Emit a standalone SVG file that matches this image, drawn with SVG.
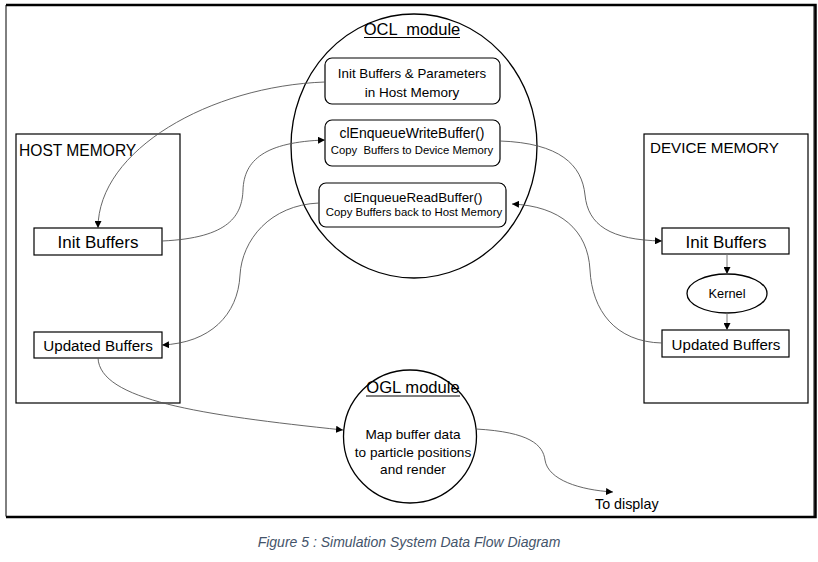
<svg xmlns="http://www.w3.org/2000/svg" width="818" height="562" viewBox="0 0 818 562">
<style>
text{font-family:"Liberation Sans",Arial,sans-serif;fill:#000}
.box{fill:#fff;stroke:#000;stroke-width:1.2}
.rbox{fill:#fff;stroke:#000;stroke-width:1.2}
.ell{fill:#fff;stroke:#000;stroke-width:1.3}
.con{fill:none;stroke:#555;stroke-width:0.9}
.k{fill:none;stroke:#777;stroke-width:1}
.mid{text-anchor:middle}
.cap{font-style:italic;fill:#44546A;font-size:14px}
</style>
<defs>
<marker id="ah" viewBox="0 0 10 10" refX="10" refY="5" markerWidth="7" markerHeight="7" markerUnits="userSpaceOnUse" orient="auto">
<path d="M0,0 L10,5 L0,10 z" fill="#000"/>
</marker>
</defs>
<rect width="818" height="562" fill="#fff"/>
<!-- outer frame -->
<path d="M6,5 H814 V516.5 H6 Z" fill="none" stroke="#000" stroke-width="1"/>
<path d="M6,5 H815.5 V517 H6" fill="none" stroke="#000" stroke-width="2.5"/>

<g id="host-memory">
<rect class="box" x="16" y="134" width="164" height="269"/>
<text x="19" y="156" font-size="15.6">HOST MEMORY</text>
</g>
<g id="host-init">
<rect class="box" x="34" y="228" width="128" height="27"/>
<text class="mid" x="98" y="248" font-size="17">Init Buffers</text>
</g>
<g id="host-updated">
<rect class="box" x="34" y="332" width="128" height="26"/>
<text class="mid" x="98" y="351" font-size="15.2">Updated Buffers</text>
</g>

<g id="device-memory">
<rect class="box" x="644" y="134" width="164" height="269"/>
<text x="650" y="153" font-size="15.2">DEVICE MEMORY</text>
</g>
<g id="device-init">
<rect class="box" x="662" y="228" width="127" height="26"/>
<text class="mid" x="726" y="248" font-size="17">Init Buffers</text>
</g>
<g id="kernel">
<ellipse class="ell" cx="727" cy="293.5" rx="40" ry="19.5"/>
<text class="mid" x="727" y="298" font-size="12.8">Kernel</text>
</g>
<g id="device-updated">
<rect class="box" x="662" y="330" width="127" height="27"/>
<text class="mid" x="726" y="350" font-size="15.1">Updated Buffers</text>
</g>

<g id="ocl-module">
<ellipse class="ell" cx="414" cy="146" rx="123" ry="132"/>
<text class="mid" x="412" y="35" font-size="16.5" xml:space="preserve">OCL  module</text>
<line x1="364" y1="37.5" x2="460" y2="37.5" stroke="#000" stroke-width="1"/>
</g>
<g id="ocl-init">
<rect class="rbox" x="325" y="58" width="175" height="46" rx="7"/>
<text class="mid" x="412" y="78" font-size="13.3">Init Buffers &amp; Parameters</text>
<text class="mid" x="412" y="97" font-size="13.5">in Host Memory</text>
</g>
<g id="ocl-write">
<rect class="rbox" x="325" y="120" width="175" height="46" rx="7"/>
<text class="mid" x="412" y="138" font-size="14">clEnqueueWriteBuffer()</text>
<text class="mid" x="412" y="154" font-size="11.3" xml:space="preserve">Copy  Buffers to Device Memory</text>
</g>
<g id="ocl-read">
<rect class="rbox" x="319" y="183" width="187" height="44" rx="7"/>
<text class="mid" x="413" y="202" font-size="13.3">clEnqueueReadBuffer()</text>
<text class="mid" x="414" y="216" font-size="11.4">Copy Buffers back to Host Memory</text>
</g>

<g id="ogl-module">
<ellipse class="ell" cx="410" cy="436.5" rx="66.5" ry="66.5"/>
<text class="mid" x="413" y="393" font-size="16.6">OGL module</text>
<line x1="366" y1="396" x2="460" y2="396" stroke="#000" stroke-width="1"/>
<text class="mid" x="413" y="439" font-size="13.6">Map buffer data</text>
<text class="mid" x="413" y="457" font-size="13.6">to particle positions</text>
<text class="mid" x="413" y="474" font-size="13.6">and render</text>
</g>

<g id="to-display">
<text x="595" y="509" font-size="14.3">To display</text>
</g>

<g id="connectors">
<path class="con" d="M325,82 C210,86 98,150 98,228" marker-end="url(#ah)"/>
<path class="con" d="M162,241 C230,238 242,215 243,190 C244,160 265,142 325,140" marker-end="url(#ah)"/>
<path class="con" d="M319,203 C270,205 242,240 240,275 C238,315 210,343 162,345" marker-end="url(#ah)"/>
<path class="con" d="M500,141 C560,143 582,165 585,195 C588,225 610,240 662,241" marker-end="url(#ah)"/>
<path class="con" d="M662,343 C615,342 592,310 590,270 C588,230 560,206 512,204" marker-end="url(#ah)"/>
<path class="con" d="M98,358 C100,400 200,415 343,430" marker-end="url(#ah)"/>
<path class="con" d="M476,429 C530,432 543,445 545,460 C548,480 580,490 613,492" marker-end="url(#ah)"/>
<line class="k" x1="727" y1="254" x2="727" y2="274" marker-end="url(#ah)"/>
<line class="k" x1="727" y1="313" x2="727" y2="330" marker-end="url(#ah)"/>
</g>

<text class="cap mid" x="409" y="547">Figure 5 : Simulation System Data Flow Diagram</text>
</svg>
